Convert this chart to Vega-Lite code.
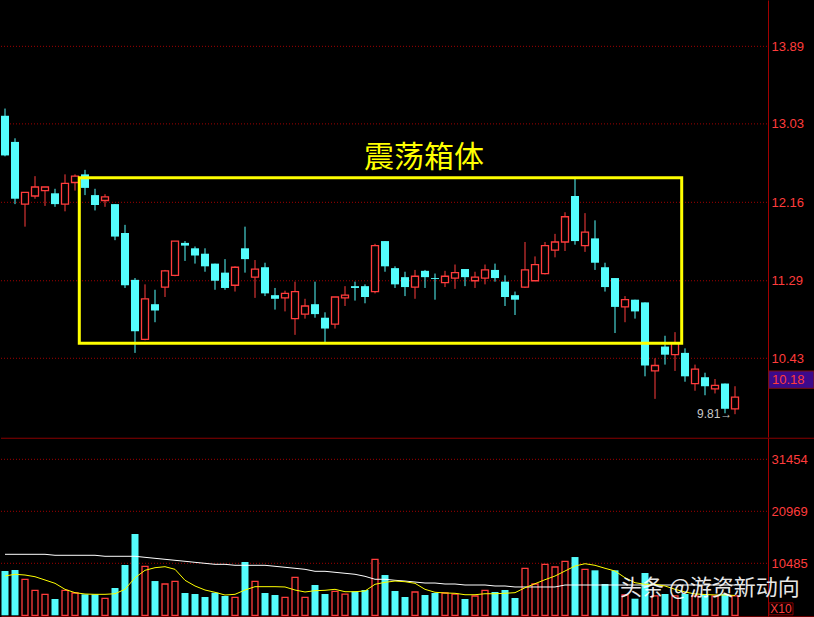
{
  "$schema": "https://vega.github.io/schema/vega-lite/v6.json",
  "background": "#000000",
  "padding": 0,
  "spacing": 0,
  "config": {
    "view": {"stroke": null},
    "axis": {
      "title": null, "ticks": false, "grid": false, "domainColor": "#a00000", "domainWidth": 1,
      "labelColor": "#ff3c3c", "labelFont": "Liberation Sans", "labelFontSize": 13,
      "labelPadding": 3, "minExtent": 46, "maxExtent": 46, "labelFlush": false, "labelOverlap": false
    }
  },
  "datasets": {
    "k": [
      {"i":1,"o":13.12,"h":13.20,"l":12.67,"c":12.68,"v":8930,"ma5":7920,"ma60":12300},
      {"i":2,"o":12.83,"h":12.87,"l":12.14,"c":12.20,"v":9130,"ma5":8270,"ma60":12300},
      {"i":3,"o":12.14,"h":12.27,"l":11.89,"c":12.27,"v":7260,"ma5":8120,"ma60":12300},
      {"i":4,"o":12.23,"h":12.45,"l":12.20,"c":12.33,"v":5040,"ma5":7780,"ma60":12300},
      {"i":5,"o":12.29,"h":12.33,"l":12.12,"c":12.33,"v":4230,"ma5":7120,"ma60":12300},
      {"i":6,"o":12.26,"h":12.31,"l":12.11,"c":12.14,"v":3290,"ma5":6450,"ma60":12100},
      {"i":7,"o":12.14,"h":12.47,"l":12.06,"c":12.37,"v":5040,"ma5":5240,"ma60":12100},
      {"i":8,"o":12.38,"h":12.47,"l":12.29,"c":12.45,"v":4500,"ma5":4560,"ma60":12100},
      {"i":9,"o":12.47,"h":12.52,"l":12.24,"c":12.32,"v":4230,"ma5":4290,"ma60":12100},
      {"i":10,"o":12.24,"h":12.31,"l":12.07,"c":12.13,"v":4230,"ma5":4230,"ma60":12100},
      {"i":11,"o":12.18,"h":12.25,"l":12.11,"c":12.22,"v":3430,"ma5":4230,"ma60":11900},
      {"i":12,"o":12.14,"h":12.14,"l":11.74,"c":11.78,"v":5500,"ma5":4350,"ma60":11900},
      {"i":13,"o":11.82,"h":11.91,"l":11.21,"c":11.24,"v":10140,"ma5":5240,"ma60":11900},
      {"i":14,"o":11.30,"h":11.32,"l":10.49,"c":10.73,"v":16390,"ma5":7580,"ma60":11900},
      {"i":15,"o":10.64,"h":11.25,"l":10.63,"c":11.09,"v":9880,"ma5":9070,"ma60":11690},
      {"i":16,"o":11.03,"h":11.19,"l":10.83,"c":10.96,"v":6910,"ma5":9600,"ma60":11490},
      {"i":17,"o":11.22,"h":11.41,"l":11.11,"c":11.40,"v":6310,"ma5":9800,"ma60":11290},
      {"i":18,"o":11.35,"h":11.73,"l":11.34,"c":11.73,"v":6850,"ma5":9270,"ma60":11090},
      {"i":19,"o":11.71,"h":11.73,"l":11.51,"c":11.68,"v":4500,"ma5":7060,"ma60":10890},
      {"i":20,"o":11.65,"h":11.67,"l":11.48,"c":11.57,"v":4290,"ma5":5910,"ma60":10680},
      {"i":21,"o":11.59,"h":11.65,"l":11.39,"c":11.45,"v":3690,"ma5":5100,"ma60":10480},
      {"i":22,"o":11.48,"h":11.48,"l":11.19,"c":11.29,"v":4560,"ma5":4640,"ma60":10280},
      {"i":23,"o":11.38,"h":11.53,"l":11.19,"c":11.21,"v":3890,"ma5":4090,"ma60":10280},
      {"i":24,"o":11.24,"h":11.45,"l":11.17,"c":11.44,"v":3630,"ma5":4230,"ma60":10080},
      {"i":25,"o":11.65,"h":11.89,"l":11.38,"c":11.53,"v":10750,"ma5":5100,"ma60":10080},
      {"i":26,"o":11.33,"h":11.52,"l":11.10,"c":11.42,"v":6850,"ma5":5770,"ma60":10080},
      {"i":27,"o":11.44,"h":11.49,"l":11.12,"c":11.15,"v":4500,"ma5":5770,"ma60":10080},
      {"i":28,"o":11.13,"h":11.21,"l":10.97,"c":11.09,"v":4090,"ma5":5770,"ma60":9880},
      {"i":29,"o":11.10,"h":11.18,"l":10.95,"c":11.15,"v":3630,"ma5":5710,"ma60":9680},
      {"i":30,"o":10.87,"h":11.28,"l":10.69,"c":11.17,"v":7660,"ma5":5100,"ma60":9480},
      {"i":31,"o":10.92,"h":11.09,"l":10.87,"c":11.01,"v":3630,"ma5":4700,"ma60":9270},
      {"i":32,"o":11.03,"h":11.28,"l":10.88,"c":10.92,"v":6110,"ma5":4960,"ma60":8870},
      {"i":33,"o":10.88,"h":10.94,"l":10.61,"c":10.76,"v":4290,"ma5":5040,"ma60":8870},
      {"i":34,"o":10.81,"h":11.11,"l":10.76,"c":11.11,"v":4840,"ma5":5240,"ma60":8670},
      {"i":35,"o":11.10,"h":11.23,"l":11.01,"c":11.13,"v":4290,"ma5":4760,"ma60":8470},
      {"i":36,"o":11.23,"h":11.28,"l":11.07,"c":11.21,"v":4840,"ma5":4760,"ma60":8270},
      {"i":37,"o":11.23,"h":11.25,"l":11.04,"c":11.11,"v":5100,"ma5":4900,"ma60":7860},
      {"i":38,"o":11.17,"h":11.70,"l":11.15,"c":11.68,"v":11290,"ma5":6250,"ma60":7260},
      {"i":39,"o":11.73,"h":11.73,"l":11.39,"c":11.45,"v":8120,"ma5":6650,"ma60":7260},
      {"i":40,"o":11.43,"h":11.45,"l":11.21,"c":11.25,"v":4900,"ma5":6910,"ma60":7060},
      {"i":41,"o":11.33,"h":11.39,"l":11.12,"c":11.22,"v":3690,"ma5":6770,"ma60":6910},
      {"i":42,"o":11.22,"h":11.41,"l":11.09,"c":11.34,"v":4700,"ma5":6450,"ma60":6710},
      {"i":43,"o":11.40,"h":11.41,"l":11.21,"c":11.33,"v":4090,"ma5":5240,"ma60":6510},
      {"i":44,"o":11.32,"h":11.37,"l":11.08,"c":11.31,"v":4500,"ma5":4640,"ma60":6510},
      {"i":45,"o":11.27,"h":11.40,"l":11.22,"c":11.34,"v":4500,"ma5":4500,"ma60":6310},
      {"i":46,"o":11.32,"h":11.47,"l":11.20,"c":11.38,"v":4290,"ma5":4440,"ma60":6310},
      {"i":47,"o":11.42,"h":11.42,"l":11.23,"c":11.33,"v":3290,"ma5":4150,"ma60":6110},
      {"i":48,"o":11.29,"h":11.39,"l":11.21,"c":11.33,"v":3890,"ma5":4150,"ma60":6110},
      {"i":49,"o":11.32,"h":11.47,"l":11.25,"c":11.41,"v":5040,"ma5":4350,"ma60":6110},
      {"i":50,"o":11.41,"h":11.48,"l":11.28,"c":11.32,"v":4700,"ma5":4350,"ma60":5910},
      {"i":51,"o":11.28,"h":11.35,"l":11.01,"c":11.11,"v":5100,"ma5":4440,"ma60":5910},
      {"i":52,"o":11.13,"h":11.17,"l":10.91,"c":11.08,"v":3490,"ma5":4560,"ma60":5710},
      {"i":53,"o":11.22,"h":11.72,"l":11.21,"c":11.41,"v":9480,"ma5":5560,"ma60":5710},
      {"i":54,"o":11.29,"h":11.56,"l":11.29,"c":11.47,"v":6310,"ma5":6370,"ma60":5710},
      {"i":55,"o":11.37,"h":11.72,"l":11.36,"c":11.68,"v":10280,"ma5":7180,"ma60":5710},
      {"i":56,"o":11.63,"h":11.81,"l":11.55,"c":11.72,"v":9740,"ma5":7920,"ma60":5710},
      {"i":57,"o":11.72,"h":12.05,"l":11.62,"c":12.00,"v":10890,"ma5":8930,"ma60":6110},
      {"i":58,"o":12.23,"h":12.42,"l":11.69,"c":11.73,"v":11750,"ma5":9940,"ma60":6110},
      {"i":59,"o":11.68,"h":12.04,"l":11.61,"c":11.83,"v":9270,"ma5":10400,"ma60":6110},
      {"i":60,"o":11.76,"h":11.96,"l":11.41,"c":11.49,"v":9070,"ma5":10080,"ma60":6110},
      {"i":61,"o":11.44,"h":11.49,"l":11.17,"c":11.22,"v":6310,"ma5":9480,"ma60":6110},
      {"i":62,"o":11.32,"h":11.32,"l":10.71,"c":11.00,"v":9070,"ma5":8930,"ma60":6110},
      {"i":63,"o":11.00,"h":11.12,"l":10.83,"c":11.08,"v":4090,"ma5":7580,"ma60":6110},
      {"i":64,"o":11.08,"h":11.08,"l":10.87,"c":10.95,"v":3350,"ma5":6570,"ma60":6110},
      {"i":65,"o":11.05,"h":11.05,"l":10.23,"c":10.35,"v":8530,"ma5":6250,"ma60":6110},
      {"i":66,"o":10.29,"h":10.43,"l":9.98,"c":10.35,"v":3900,"ma5":6250,"ma60":6110},
      {"i":67,"o":10.56,"h":10.68,"l":10.36,"c":10.47,"v":4300,"ma5":5910,"ma60":6110},
      {"i":68,"o":10.47,"h":10.72,"l":10.29,"c":10.60,"v":3900,"ma5":5240,"ma60":6110},
      {"i":69,"o":10.49,"h":10.54,"l":10.17,"c":10.23,"v":4300,"ma5":4700,"ma60":6110},
      {"i":70,"o":10.15,"h":10.36,"l":10.07,"c":10.31,"v":3900,"ma5":4300,"ma60":6110},
      {"i":71,"o":10.22,"h":10.27,"l":10.02,"c":10.12,"v":4300,"ma5":4200,"ma60":6110},
      {"i":72,"o":10.09,"h":10.20,"l":10.04,"c":10.13,"v":3900,"ma5":4100,"ma60":6110},
      {"i":73,"o":10.15,"h":10.15,"l":9.82,"c":9.87,"v":4300,"ma5":4100,"ma60":6110},
      {"i":74,"o":9.87,"h":10.12,"l":9.81,"c":10.00,"v":3900,"ma5":4000,"ma60":6110}
    ],
    "pgrid": [{"a":0.6,"b":77.3,"g":10.43},{"a":0.6,"b":77.3,"g":11.29},{"a":0.6,"b":77.3,"g":12.16},{"a":0.6,"b":77.3,"g":13.03},{"a":0.6,"b":77.3,"g":13.89}],
    "vgrid": [{"a":0.6,"b":77.3,"g":10485},{"a":0.6,"b":77.3,"g":20969},{"a":0.6,"b":77.3,"g":31454}],
    "box": [{"x1":8.43,"x2":68.67,"y1":10.596,"y2":12.433}],
    "title": [{"label":"震荡箱体","x":42.9,"y":12.648}],
    "tag": [{"label":"10.18","x1":77.37,"x2":81.9,"y1":10.097,"y2":10.289,"tx":77.7,"ty":10.19}],
    "low": [{"label":"9.81→","x":70.2,"y":9.81}],
    "x10": [{"label":"X10","x1":77.4,"x2":79.8,"y1":100,"y2":2500,"tx":78.6,"ty":1250}],
    "wm": [{"label":"头条 @游资新动向","x":62.5,"y":5500}]
  },
  "vconcat": [
    {
      "width": 768,
      "height": 437,
      "layer": [
        {
          "data": {"name": "pgrid"},
          "mark": {"type": "rule", "color": "#a00000", "strokeWidth": 1, "strokeDash": [1, 2]},
          "encoding": {
            "x": {"field": "a", "type": "quantitative", "scale": {"domain": [0.5, 77.3], "nice": false, "zero": false, "padding": 0}, "axis": null},
            "x2": {"field": "b"},
            "y": {"field": "g", "type": "quantitative", "scale": {"domain": [9.557, 14.404], "nice": false, "zero": false},
                  "axis": {"orient": "right", "values": [10.43, 11.29, 12.16, 13.03, 13.89], "format": ".2f"}}
          }
        },
        {
          "data": {"name": "k"},
          "mark": {"type": "rule", "strokeWidth": 1},
          "encoding": {
            "x": {"field": "i", "type": "quantitative"},
            "y": {"field": "l", "type": "quantitative"},
            "y2": {"field": "h"},
            "color": {"condition": {"test": "datum.c >= datum.o", "value": "#ff3c3c"}, "value": "#54fcfc"}
          }
        },
        {
          "data": {"name": "k"},
          "transform": [{"filter": "datum.c < datum.o"}],
          "mark": {"type": "bar", "color": "#54fcfc", "size": 8},
          "encoding": {
            "x": {"field": "i", "type": "quantitative"},
            "y": {"field": "o", "type": "quantitative"},
            "y2": {"field": "c"}
          }
        },
        {
          "data": {"name": "k"},
          "transform": [{"filter": "datum.c >= datum.o"}],
          "mark": {"type": "bar", "fill": "#000000", "stroke": "#ff3c3c", "strokeWidth": 1.3, "size": 7},
          "encoding": {
            "x": {"field": "i", "type": "quantitative"},
            "y": {"field": "o", "type": "quantitative"},
            "y2": {"field": "c"}
          }
        },
        {
          "data": {"name": "box"},
          "mark": {"type": "rect", "fill": null, "fillOpacity": 0, "stroke": "#ffff00", "strokeWidth": 3},
          "encoding": {
            "x": {"field": "x1", "type": "quantitative"},
            "x2": {"field": "x2"},
            "y": {"field": "y1", "type": "quantitative"},
            "y2": {"field": "y2"}
          }
        },
        {
          "data": {"name": "title"},
          "mark": {"type": "text", "color": "#ffff00", "font": "Noto Sans CJK SC", "fontSize": 30, "align": "center", "baseline": "middle"},
          "encoding": {
            "x": {"field": "x", "type": "quantitative"},
            "y": {"field": "y", "type": "quantitative"},
            "text": {"field": "label"}
          }
        },
        {
          "data": {"name": "tag"},
          "mark": {"type": "rect", "fill": "#3c0a8c", "stroke": "#7a1010", "strokeWidth": 1},
          "encoding": {
            "x": {"field": "x1", "type": "quantitative"},
            "x2": {"field": "x2"},
            "y": {"field": "y1", "type": "quantitative"},
            "y2": {"field": "y2"}
          }
        },
        {
          "data": {"name": "tag"},
          "mark": {"type": "text", "color": "#ff3c3c", "font": "Liberation Sans", "fontSize": 13, "align": "left", "baseline": "middle"},
          "encoding": {
            "x": {"field": "tx", "type": "quantitative"},
            "y": {"field": "ty", "type": "quantitative"},
            "text": {"field": "label"}
          }
        },
        {
          "data": {"name": "low"},
          "mark": {"type": "text", "color": "#c8c8c8", "font": "Liberation Sans", "fontSize": 12, "align": "left", "baseline": "middle"},
          "encoding": {
            "x": {"field": "x", "type": "quantitative"},
            "y": {"field": "y", "type": "quantitative"},
            "text": {"field": "label"}
          }
        }
      ]
    },
    {
      "width": 768,
      "height": 180,
      "layer": [
        {
          "data": {"name": "vgrid"},
          "mark": {"type": "rule", "color": "#a00000", "strokeWidth": 1, "strokeDash": [1, 2]},
          "encoding": {
            "x": {"field": "a", "type": "quantitative", "scale": {"domain": [0.5, 77.3], "nice": false, "zero": false, "padding": 0}, "axis": null},
            "x2": {"field": "b"},
            "y": {"field": "g", "type": "quantitative", "scale": {"domain": [-544, 35750], "nice": false, "zero": false},
                  "axis": {"orient": "right", "values": [10485, 20969, 31454], "format": "d"}}
          }
        },
        {
          "data": {"name": "k"},
          "transform": [{"filter": "datum.c < datum.o"}],
          "mark": {"type": "bar", "color": "#54fcfc", "size": 7},
          "encoding": {
            "x": {"field": "i", "type": "quantitative"},
            "y": {"field": "v", "type": "quantitative"},
            "y2": {"datum": 0}
          }
        },
        {
          "data": {"name": "k"},
          "transform": [{"filter": "datum.c >= datum.o"}],
          "mark": {"type": "bar", "fill": "#000000", "stroke": "#ff3c3c", "strokeWidth": 1.3, "size": 6},
          "encoding": {
            "x": {"field": "i", "type": "quantitative"},
            "y": {"field": "v", "type": "quantitative"},
            "y2": {"datum": 0}
          }
        },
        {
          "data": {"name": "k"},
          "mark": {"type": "line", "color": "#ffffff", "strokeWidth": 1},
          "encoding": {
            "x": {"field": "i", "type": "quantitative"},
            "y": {"field": "ma60", "type": "quantitative"}
          }
        },
        {
          "data": {"name": "k"},
          "mark": {"type": "line", "color": "#ffff00", "strokeWidth": 1},
          "encoding": {
            "x": {"field": "i", "type": "quantitative"},
            "y": {"field": "ma5", "type": "quantitative"}
          }
        },
        {
          "data": {"values": [{"a": 0.6, "b": 81.9, "top": 35700}]},
          "mark": {"type": "rule", "color": "#8b0000", "strokeWidth": 1},
          "encoding": {
            "x": {"field": "a", "type": "quantitative"},
            "x2": {"field": "b"},
            "y": {"field": "top", "type": "quantitative"}
          }
        },
        {
          "data": {"values": [{"a": 0.65, "b": 81.9, "bot": -420}]},
          "mark": {"type": "rule", "color": "#8b0000", "strokeWidth": 2.5},
          "encoding": {
            "x": {"field": "a", "type": "quantitative"},
            "x2": {"field": "b"},
            "y": {"field": "bot", "type": "quantitative"}
          }
        },
        {
          "data": {"name": "x10"},
          "mark": {"type": "rect", "fill": "#000000", "stroke": "#8b0000", "strokeWidth": 1},
          "encoding": {
            "x": {"field": "x1", "type": "quantitative"},
            "x2": {"field": "x2"},
            "y": {"field": "y1", "type": "quantitative"},
            "y2": {"field": "y2"}
          }
        },
        {
          "data": {"name": "x10"},
          "mark": {"type": "text", "color": "#ff3c3c", "font": "Liberation Sans", "fontSize": 12, "align": "center", "baseline": "middle"},
          "encoding": {
            "x": {"field": "tx", "type": "quantitative"},
            "y": {"field": "ty", "type": "quantitative"},
            "text": {"field": "label"}
          }
        },
        {
          "data": {"name": "wm"},
          "mark": {"type": "text", "color": "#ffffff", "opacity": 0.9, "font": "Noto Sans CJK SC", "fontSize": 22, "align": "left", "baseline": "middle"},
          "encoding": {
            "x": {"field": "x", "type": "quantitative"},
            "y": {"field": "y", "type": "quantitative"},
            "text": {"field": "label"}
          }
        }
      ]
    }
  ]
}
